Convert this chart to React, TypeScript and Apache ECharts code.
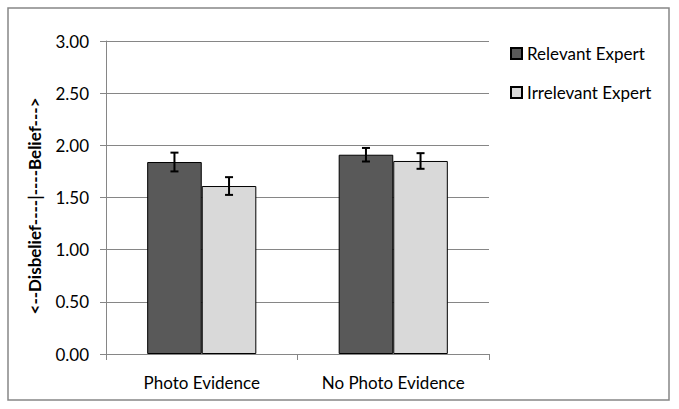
import React, { useEffect, useRef } from "react";
import * as echarts from "echarts";

const categories = ["Photo Evidence", "No Photo Evidence"];
const seriesNames = ["Relevant Expert", "Irrelevant Expert"];
const relevantValues = [1.84, 1.91];
const irrelevantValues = [1.61, 1.85];
const relevantErrors = [0.09, 0.065];
const irrelevantErrors = [0.085, 0.075];
const yAxisTitle = "<--Disbelief----|----Belief--->";

const FONT = "Lato, 'Liberation Sans', sans-serif";
const CAT_GAP = 0.43;

export default function App() {
  const ref = useRef<HTMLDivElement>(null);
  useEffect(() => {
    document.body.style.margin = "0";
    const chart = echarts.init(ref.current!, null, { renderer: "svg" });
    const errData: number[][] = [];
    categories.forEach((_, i) => {
      errData.push([i, relevantValues[i] - relevantErrors[i], relevantValues[i] + relevantErrors[i], 0]);
      errData.push([i, irrelevantValues[i] - irrelevantErrors[i], irrelevantValues[i] + irrelevantErrors[i], 1]);
    });
    chart.setOption({
      animation: false,
      textStyle: { fontFamily: FONT },
      grid: { left: 106, right: 190, top: 41, bottom: 55 },
      legend: {
        orient: "vertical",
        left: 510,
        top: 45,
        padding: 0,
        itemWidth: 11,
        itemHeight: 11,
        itemGap: 22,
        icon: "rect",
        textStyle: { fontSize: 17, color: "#000", fontFamily: FONT },
        data: seriesNames,
      },
      graphic: [
        {
          type: "rect",
          shape: { x: 8, y: 8, width: 661, height: 392 },
          style: { fill: "none", stroke: "#868686", lineWidth: 1.5 },
          silent: true,
        },
        {
          type: "text",
          x: 34,
          y: 206,
          rotation: Math.PI / 2,
          style: {
            text: yAxisTitle,
            fontSize: 17,
            fontWeight: "bold",
            fontFamily: FONT,
            fill: "#000",
            align: "center",
            verticalAlign: "middle",
          },
        },
      ],
      xAxis: {
        type: "category",
        data: categories,
        axisLine: { lineStyle: { color: "#868686", width: 1 } },
        axisTick: { show: true, alignWithLabel: false, length: 6, lineStyle: { color: "#868686" } },
        axisLabel: { fontSize: 17, color: "#000", margin: 20, fontFamily: FONT },
      },
      yAxis: {
        type: "value",
        min: 0,
        max: 3,
        interval: 0.5,
        axisLine: { show: true, lineStyle: { color: "#868686", width: 1 } },
        axisTick: { show: true, length: 6, lineStyle: { color: "#868686" } },
        splitLine: { lineStyle: { color: "#868686", width: 1 } },
        axisLabel: {
          fontSize: 17,
          color: "#000",
          margin: 17,
          fontFamily: FONT,
          formatter: (v: number) => v.toFixed(2),
        },
      },
      series: [
        {
          name: seriesNames[0],
          type: "bar",
          data: relevantValues,
          barGap: "0%",
          barCategoryGap: CAT_GAP * 100 + "%",
          itemStyle: { color: "#595959", borderColor: "#000", borderWidth: 1 },
        },
        {
          name: seriesNames[1],
          type: "bar",
          data: irrelevantValues,
          barGap: "0%",
          barCategoryGap: CAT_GAP * 100 + "%",
          itemStyle: { color: "#d9d9d9", borderColor: "#000", borderWidth: 1 },
        },
        {
          type: "custom",
          name: "errors",
          data: errData,
          z: 10,
          renderItem: (params: any, api: any) => {
            const cat = api.value(0);
            const lo = api.coord([cat, api.value(1)]);
            const hi = api.coord([cat, api.value(2)]);
            const band = api.size([1, 0])[0];
            const barW = (band * (1 - CAT_GAP)) / 2;
            const x = lo[0] + (api.value(3) === 0 ? -barW / 2 : barW / 2);
            const cap = 4;
            const style = { stroke: "#000", lineWidth: 2 };
            return {
              type: "group",
              children: [
                { type: "line", shape: { x1: x, y1: lo[1], x2: x, y2: hi[1] }, style },
                { type: "line", shape: { x1: x - cap, y1: lo[1], x2: x + cap, y2: lo[1] }, style },
                { type: "line", shape: { x1: x - cap, y1: hi[1], x2: x + cap, y2: hi[1] }, style },
              ],
            };
          },
        },
      ],
    });
    return () => chart.dispose();
  }, []);
  return <div ref={ref} style={{ width: 679, height: 409, background: "#fff" }} />;
}
